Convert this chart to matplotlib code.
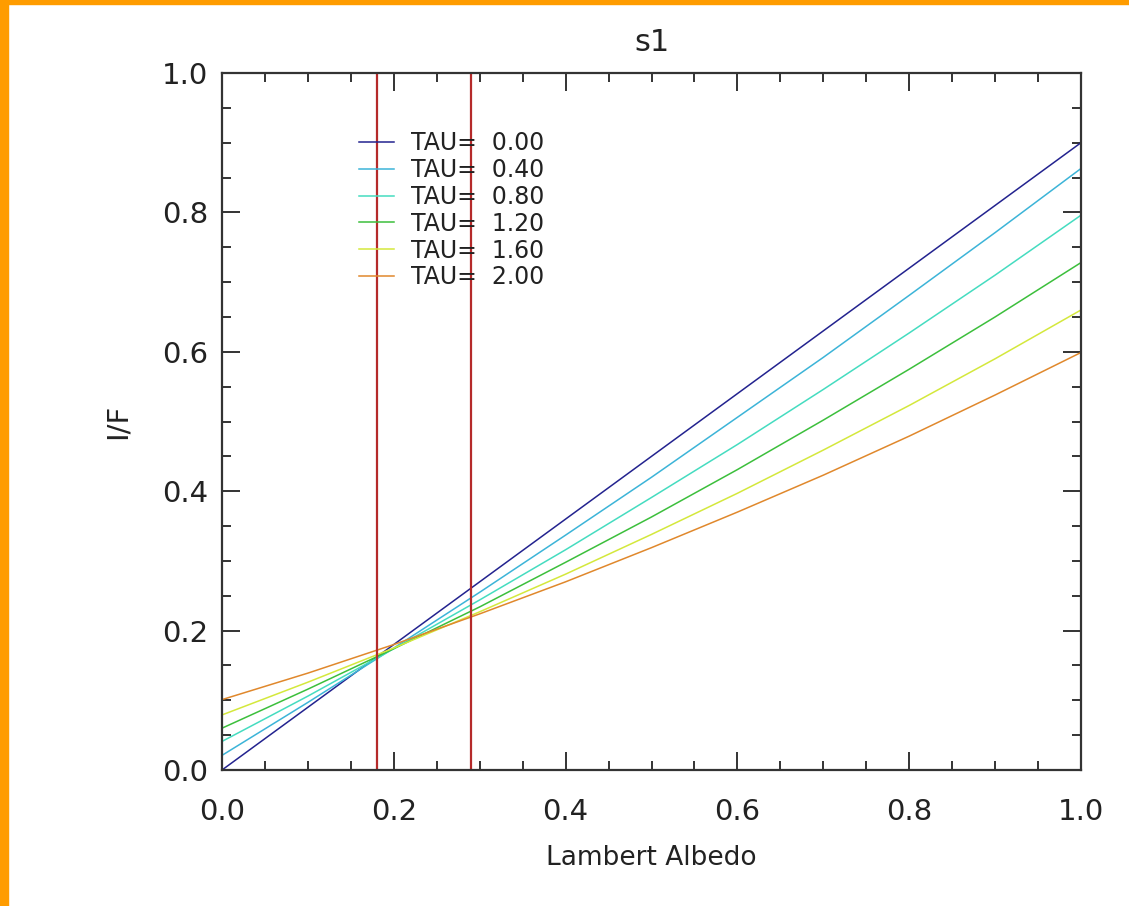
import numpy as np
import matplotlib
matplotlib.use("Agg")
import matplotlib.pyplot as plt
from matplotlib.ticker import MultipleLocator
from matplotlib.patches import Rectangle

# Lambert albedo grid and I/F curves
albedo = [0.0, 0.1, 0.2, 0.3, 0.4, 0.5, 0.6, 0.7, 0.8, 0.9, 1.0]
taus = [0.00, 0.40, 0.80, 1.20, 1.60, 2.00]
if_tau000 = [0.000, 0.090, 0.180, 0.270, 0.360, 0.450, 0.540, 0.630, 0.720, 0.810, 0.900]
if_tau040 = [0.021, 0.097, 0.175, 0.255, 0.337, 0.420, 0.506, 0.592, 0.681, 0.771, 0.863]
if_tau080 = [0.041, 0.106, 0.174, 0.244, 0.316, 0.391, 0.467, 0.546, 0.627, 0.710, 0.796]
if_tau120 = [0.060, 0.116, 0.174, 0.234, 0.298, 0.363, 0.431, 0.502, 0.575, 0.650, 0.728]
if_tau160 = [0.079, 0.126, 0.175, 0.227, 0.281, 0.338, 0.397, 0.459, 0.523, 0.590, 0.660]
if_tau200 = [0.101, 0.139, 0.180, 0.224, 0.270, 0.319, 0.370, 0.423, 0.479, 0.538, 0.599]
series = [if_tau000, if_tau040, if_tau080, if_tau120, if_tau160, if_tau200]
colors = ["#23238f", "#3cb4d8", "#45dcc0", "#3cbf3c", "#d4e83c", "#e0882c"]
vlines = [0.18, 0.29]

fig = plt.figure(figsize=(11.29, 9.06), dpi=100)
# orange frame stripes (left and top)
fig.patches.append(Rectangle((0, 0), 8 / 1129, 1, transform=fig.transFigure,
                             color="#ff9c00", zorder=0))
fig.patches.append(Rectangle((0, 1 - 4 / 906), 1, 4 / 906, transform=fig.transFigure,
                             color="#ff9c00", zorder=0))

ax = fig.add_axes([222 / 1129, 1 - 770 / 906, (1081 - 222) / 1129, (770 - 73) / 906])

for t, y, c in zip(taus, series, colors):
    ax.plot(albedo, y, color=c, lw=1.1, label=f"TAU={t:6.2f}")

for xv in vlines:
    ax.axvline(xv, color="#b52a2a", lw=1.6)

ax.set_xlim(0, 1)
ax.set_ylim(0, 1)
ax.xaxis.set_major_locator(MultipleLocator(0.2))
ax.xaxis.set_minor_locator(MultipleLocator(0.05))
ax.yaxis.set_major_locator(MultipleLocator(0.2))
ax.yaxis.set_minor_locator(MultipleLocator(0.05))
ax.xaxis.set_major_formatter(plt.FormatStrFormatter("%.1f"))
ax.yaxis.set_major_formatter(plt.FormatStrFormatter("%.1f"))
ax.tick_params(which="both", direction="in", top=True, right=True, color="#333333",
               width=1.4, labelcolor="#222222")
ax.tick_params(which="major", length=13, labelsize=21)
ax.tick_params(which="minor", length=6.5)
ax.tick_params(axis="x", which="major", pad=20)
ax.tick_params(axis="y", which="major", pad=10)
for s in ax.spines.values():
    s.set_linewidth(1.6)
    s.set_color("#333333")

ax.set_xlabel("Lambert Albedo", fontsize=19, color="#222222", labelpad=14)
ax.set_ylabel("I/F", fontsize=21, color="#222222", labelpad=22)
ax.set_title("s1", fontsize=22, color="#222222", pad=16)

leg = ax.legend(loc="upper left", bbox_to_anchor=(0.148, 0.93), frameon=False,
                fontsize=17, handlelength=1.5, handletextpad=0.7, labelspacing=0.12,
                borderaxespad=0)
for txt in leg.get_texts():
    txt.set_color("#222222")

fig.savefig("out.png", dpi=100)
